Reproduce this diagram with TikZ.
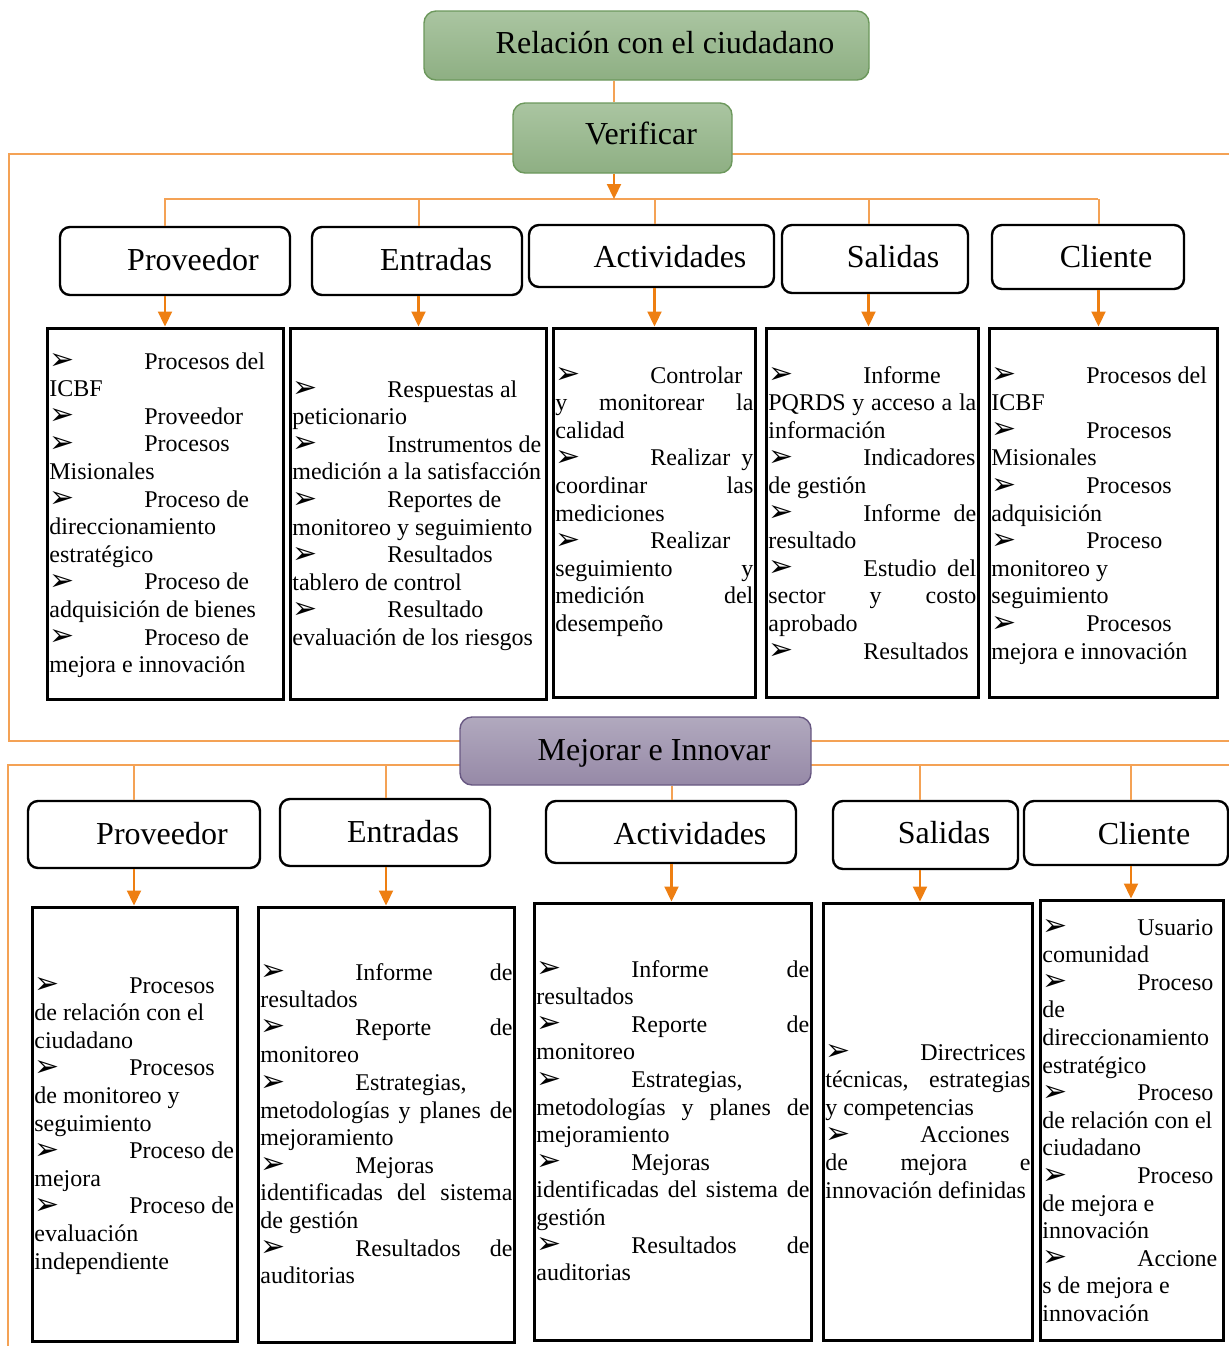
\documentclass[tikz,border=0pt]{standalone}
\usepackage{fontspec}
\setmainfont{Liberation Serif}
\newfontfamily\dejavu{DejaVu Sans}
\usetikzlibrary{arrows.meta,fit}
\definecolor{lorange}{RGB}{244,162,85}
\definecolor{dorange}{RGB}{238,127,18}
\definecolor{gtop}{RGB}{170,197,161}
\definecolor{gbot}{RGB}{142,175,131}
\definecolor{gborder}{RGB}{108,152,92}
\definecolor{ptop}{RGB}{177,169,190}
\definecolor{pbot}{RGB}{150,137,167}
\definecolor{pborder}{RGB}{104,88,130}
\newcommand\bul{\makebox[47.5pt][l]{\raisebox{-0.3pt}{\dejavu\fontsize{15}{15}\selectfont ➢}}}
\newcommand\jline[1]{\hbox to \hsize{#1}}
\newcommand\lline[1]{\hbox to \hsize{#1\hfil}}
\tikzset{
  frameline/.style={draw=lorange, line width=1pt},
  arr/.style={draw=dorange, line width=1.1pt, -{Triangle[length=7.5pt,width=7pt]}},
  hbox/.style={draw=black, line width=1.2pt, rounded corners=5pt, fill=white, inner sep=0pt},
  cbox/.style={draw=black, line width=1.5pt, fill=white, inner sep=0pt},
  gbox/.style={draw=gborder, line width=0.7pt, rounded corners=6pt, top color=gtop, bottom color=gbot, inner sep=0pt},
  pbox/.style={draw=pborder, line width=0.7pt, rounded corners=6pt, top color=ptop, bottom color=pbot, inner sep=0pt},
  htext/.style={anchor=base, inner sep=0pt, font=\fontsize{16}{19}\selectfont},
  txt/.style={anchor=base west, inner sep=0pt, font=\fontsize{12}{13.8}\selectfont},
}
\begin{document}
\begin{tikzpicture}[x=0.5pt,y=-0.5pt]
\useasboundingbox (0,0) rectangle (1229,1346);
% coordinates
\coordinate (vx) at (614,0);
\coordinate (f1r) at (1229,154);
\coordinate (f1l) at (9,154);
\coordinate (f1bl) at (9,741);
\coordinate (f1br) at (1229,741);
\coordinate (f2r) at (1229,765);
\coordinate (f2l) at (8,765);
\coordinate (f2b) at (8,1346);
\coordinate (br1l) at (164,199);
\coordinate (br1r) at (1098,199);
\coordinate (k1) at (165,199);
\coordinate (k2) at (418.5,199);
\coordinate (k3) at (654.5,199);
\coordinate (k4) at (868.5,199);
\coordinate (k5) at (1098.5,199);
\coordinate (m1) at (134,765);
\coordinate (m2) at (386,765);
\coordinate (m3) at (671.5,765);
\coordinate (m4) at (920,765);
\coordinate (m5) at (1131,765);
% frame lines
\draw[frameline] (f1r) -- (f1l) -- (f1bl) -- (f1br);
\draw[frameline] (f2r) -- (f2l) -- (f2b);
\draw[frameline] (br1l) -- (br1r);
% top boxes
\node[gbox, fit={(424,11) (869,80)}] (rel) {};
\node[gbox, fit={(513,103) (732,173)}] (ver) {};
\node[pbox, fit={(460,717) (811,785)}] (mej) {};
\node[htext] (trel) at (665,53) {Relación con el ciudadano};
\node[htext] (tver) at (641,144) {Verificar};
\node[htext] (tmej) at (654,760) {Mejorar e Innovar};
% header row 1
\node[hbox, fit={(60,227) (290,295)}] (h1) {};
\node[hbox, fit={(312,227) (522,295)}] (h2) {};
\node[hbox, fit={(529,225) (774,287)}] (h3) {};
\node[hbox, fit={(782,225) (968,293)}] (h4) {};
\node[hbox, fit={(992,225) (1184,289)}] (h5) {};
\node[htext] (th1) at (193,270) {Proveedor};
\node[htext] (th2) at (436,270) {Entradas};
\node[htext] (th3) at (670,267) {Actividades};
\node[htext] (th4) at (893,267) {Salidas};
\node[htext] (th5) at (1106,267) {Cliente};
% header row 2
\node[hbox, fit={(28,801) (260,868)}] (g1) {};
\node[hbox, fit={(280,799) (490,866)}] (g2) {};
\node[hbox, fit={(546,801) (796,863)}] (g3) {};
\node[hbox, fit={(833,801) (1018,869)}] (g4) {};
\node[hbox, fit={(1024,801) (1228,865)}] (g5) {};
\node[htext] (tg1) at (162,844) {Proveedor};
\node[htext] (tg2) at (403,842) {Entradas};
\node[htext] (tg3) at (690,844) {Actividades};
\node[htext] (tg4) at (944,843) {Salidas};
\node[htext] (tg5) at (1144,844) {Cliente};
% content boxes row 1
\node[cbox, fit={(47,328) (283,699)}] (b1) {};
\node[cbox, fit={(290,328) (546,699)}] (b2) {};
\node[cbox, fit={(553,328) (755,697)}] (b3) {};
\node[cbox, fit={(766,328) (978,697)}] (b4) {};
\node[cbox, fit={(989,328) (1217,697)}] (b5) {};
% content boxes row 2
\node[cbox, fit={(32,907) (237,1341)}] (c1) {};
\node[cbox, fit={(258,907) (514,1342)}] (c2) {};
\node[cbox, fit={(534,903) (811,1340)}] (c3) {};
\node[cbox, fit={(823,903) (1032,1340)}] (c4) {};
\node[cbox, fit={(1040,900) (1223,1340)}] (c5) {};
% connectors top
\draw[frameline] (rel.south -| vx) -- (ver.north -| vx);
\draw[arr] (ver.south -| vx) -- (br1l -| vx);
\foreach \k/\h/\b in {k1/h1/b1,k2/h2/b2,k3/h3/b3,k4/h4/b4,k5/h5/b5}{
  \draw[frameline] (\k) -- (\k |- \h.north);
  \draw[arr] (\k |- \h.south) -- (\k |- \b.north);
}
\foreach \k/\h/\b in {m1/g1/c1,m2/g2/c2,m4/g4/c4,m5/g5/c5}{
  \draw[frameline] (\k) -- (\k |- \h.north);
  \draw[arr] (\k |- \h.south) -- (\k |- \b.north);
}
\draw[frameline] (m3 |- mej.south) -- (m3 |- g3.north);
\draw[arr] (m3 |- g3.south) -- (m3 |- c3.north);
% texts row 1
\node[txt] (tb1) at (49,369) {\vtop{\hsize=116pt\baselineskip=13.8pt\relax
\lline{\bul Procesos del}
\lline{ICBF}
\lline{\bul Proveedor}
\lline{\bul Procesos}
\lline{Misionales}
\lline{\bul Proceso de}
\lline{direccionamiento}
\lline{estratégico}
\lline{\bul Proceso de}
\lline{adquisición de bienes}
\lline{\bul Proceso de}
\lline{mejora e innovación}}};
\node[txt] (tb2) at (292,397) {\vtop{\hsize=126pt\baselineskip=13.8pt\relax
\lline{\bul Respuestas al}
\lline{peticionario}
\lline{\bul Instrumentos de}
\lline{medición a la satisfacción}
\lline{\bul Reportes de}
\lline{monitoreo y seguimiento}
\lline{\bul Resultados}
\lline{tablero de control}
\lline{\bul Resultado}
\lline{evaluación de los riesgos}}};
\node[txt] (tb3) at (555,383) {\vtop{\hsize=99pt\baselineskip=13.8pt\relax
\lline{\bul Controlar}
\jline{y monitorear la}
\lline{calidad}
\jline{\bul Realizar y}
\jline{coordinar las}
\lline{mediciones}
\lline{\bul Realizar}
\jline{seguimiento y}
\jline{medición del}
\lline{desempeño}}};
\node[txt] (tb4) at (768,383) {\vtop{\hsize=104pt\baselineskip=13.8pt\relax
\lline{\bul Informe}
\jline{PQRDS y acceso a la}
\lline{información}
\lline{\bul Indicadores}
\lline{de gestión}
\jline{\bul Informe de}
\lline{resultado}
\jline{\bul Estudio del}
\jline{sector y costo}
\lline{aprobado}
\lline{\bul Resultados}}};
\node[txt] (tb5) at (991,383) {\vtop{\hsize=112pt\baselineskip=13.8pt\relax
\lline{\bul Procesos del}
\lline{ICBF}
\lline{\bul Procesos}
\lline{Misionales}
\lline{\bul Procesos}
\lline{adquisición}
\lline{\bul Proceso}
\lline{monitoreo y}
\lline{seguimiento}
\lline{\bul Procesos}
\lline{mejora e innovación}}};
% texts row 2
\node[txt] (tc1) at (34,993) {\vtop{\hsize=100.5pt\baselineskip=13.8pt\relax
\lline{\bul Procesos}
\lline{de relación con el}
\lline{ciudadano}
\lline{\bul Procesos}
\lline{de monitoreo y}
\lline{seguimiento}
\lline{\bul Proceso de}
\lline{mejora}
\lline{\bul Proceso de}
\lline{evaluación}
\lline{independiente}}};
\node[txt] (tc2) at (260,980) {\vtop{\hsize=126pt\baselineskip=13.8pt\relax
\jline{\bul Informe de}
\lline{resultados}
\jline{\bul Reporte de}
\lline{monitoreo}
\lline{\bul Estrategias,}
\jline{metodologías y planes de}
\lline{mejoramiento}
\lline{\bul Mejoras}
\jline{identificadas del sistema}
\lline{de gestión}
\jline{\bul Resultados de}
\lline{auditorias}}};
\node[txt] (tc3) at (536,977) {\vtop{\hsize=136.5pt\baselineskip=13.8pt\relax
\jline{\bul Informe de}
\lline{resultados}
\jline{\bul Reporte de}
\lline{monitoreo}
\lline{\bul Estrategias,}
\jline{metodologías y planes de}
\lline{mejoramiento}
\lline{\bul Mejoras}
\jline{identificadas del sistema de}
\lline{gestión}
\jline{\bul Resultados de}
\lline{auditorias}}};
\node[txt] (tc4) at (825,1060) {\vtop{\hsize=102.5pt\baselineskip=13.8pt\relax
\lline{\bul Directrices}
\jline{técnicas, estrategias}
\lline{y competencias}
\lline{\bul Acciones}
\jline{de mejora e}
\lline{innovación definidas}}};
\node[txt] (tc5) at (1042,935) {\vtop{\hsize=89.5pt\baselineskip=13.8pt\relax
\lline{\bul Usuario}
\lline{comunidad}
\lline{\bul Proceso}
\lline{de}
\lline{direccionamiento}
\lline{estratégico}
\lline{\bul Proceso}
\lline{de relación con el}
\lline{ciudadano}
\lline{\bul Proceso}
\lline{de mejora e}
\lline{innovación}
\lline{\bul Accione}
\lline{s de mejora e}
\lline{innovación}}};
\end{tikzpicture}
\end{document}
